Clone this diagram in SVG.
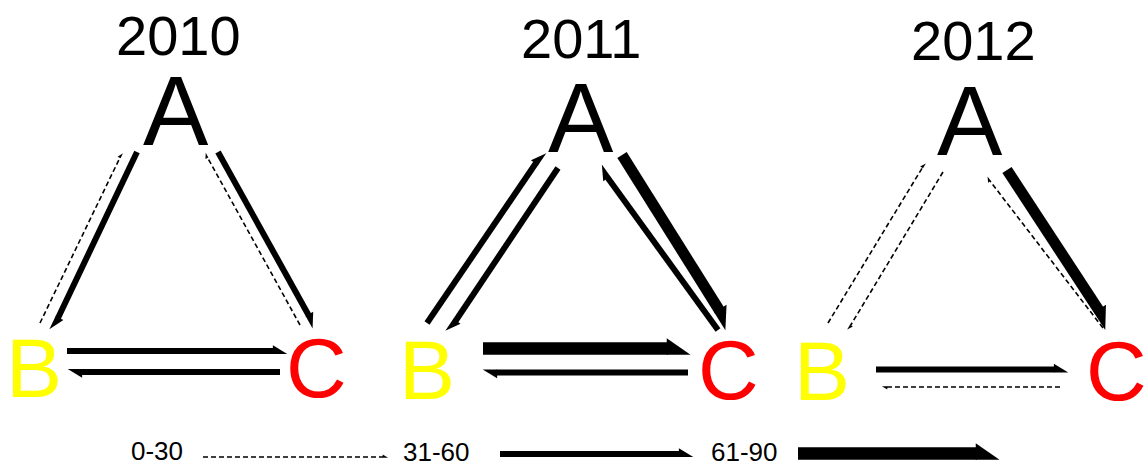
<svg xmlns="http://www.w3.org/2000/svg" width="1148" height="471" viewBox="0 0 1148 471">
<style>
text{font-family:"Liberation Sans",Arial,sans-serif;}
.title{font-size:56px;fill:#000;}
.na{font-size:98px;fill:#000;}
.nb{font-size:84px;fill:#FFFF00;}
.nc{font-size:84px;fill:#FF0000;}
.lg{font-size:26px;fill:#000;}
.m{stroke:#000;stroke-width:6;fill:none;marker-end:url(#hm);}
.t{stroke:#000;stroke-width:11;fill:none;marker-end:url(#ht);}
.th{stroke:#000;stroke-width:12.5;fill:none;marker-end:url(#ht);}
.d{stroke:#000;stroke-width:1.6;fill:none;stroke-dasharray:5 3;marker-end:url(#hd);}
</style>
<defs>
<marker id="hm" markerUnits="strokeWidth" markerWidth="3" markerHeight="3" refX="0" refY="0" orient="auto" overflow="visible"><path d="M-0.1,-0.95 L2.3,0.5 L-0.1,0.5 Z" fill="#000"/></marker>
<marker id="ht" markerUnits="strokeWidth" markerWidth="3" markerHeight="3" refX="0" refY="0" orient="auto" overflow="visible"><path d="M-0.1,-0.82 L1.8,0.5 L-0.1,0.5 Z" fill="#000"/></marker>
<marker id="hd" markerUnits="strokeWidth" markerWidth="4" markerHeight="4" refX="0" refY="0" orient="auto" overflow="visible"><path d="M-0.2,-1.6 L3.2,0.5 L-0.2,0.5 Z" fill="#000"/></marker>
</defs>
<rect width="1148" height="471" fill="#fff"/>
<g id="titles">
<text class="title" x="116" y="55">2010</text>
<text class="title" x="521" y="58">2011</text>
<text class="title" x="911" y="60">2012</text>
</g>
<g id="panel2010">
<g id="A2010"><text class="na" x="143" y="145">A</text></g>
<g id="B2010"><text class="nb" x="6" y="397">B</text></g>
<g id="C2010"><text class="nc" x="286" y="397">C</text></g>
</g>
<g id="panel2011">
<g id="A2011"><text class="na" x="548" y="152">A</text></g>
<g id="B2011"><text class="nb" x="399" y="399">B</text></g>
<g id="C2011"><text class="nc" x="698" y="399">C</text></g>
</g>
<g id="panel2012">
<g id="A2012"><text class="na" x="937" y="155">A</text></g>
<g id="B2012"><text class="nb" x="794" y="400">B</text></g>
<g id="C2012"><text class="nc" x="1086" y="400">C</text></g>
</g>
<g id="connectors">
<line class="m" x1="137" y1="152" x2="58" y2="318"/>
<line class="d" x1="40" y1="323" x2="120" y2="157.5"/>
<line class="m" x1="218" y1="152" x2="308.5" y2="315"/>
<line class="d" x1="300" y1="325" x2="207.5" y2="157.5"/>
<line class="m" x1="67" y1="351" x2="273.5" y2="351"/>
<line class="m" x1="280" y1="372" x2="81.5" y2="372"/>

<line class="m" x1="427" y1="323" x2="536" y2="163"/>
<line class="m" x1="558" y1="168" x2="455.5" y2="321"/>
<line class="t" x1="622" y1="155" x2="719.5" y2="310.5"/>
<line class="m" x1="718" y1="330" x2="607.5" y2="177.5"/>
<line class="th" x1="483" y1="348.5" x2="668" y2="348.5"/>
<line class="m" x1="688" y1="372.5" x2="496.5" y2="372.5"/>

<line class="d" x1="828" y1="323" x2="922.5" y2="167.5"/>
<line class="d" x1="943" y1="172" x2="850.5" y2="325.5"/>
<line class="t" x1="1007" y1="170" x2="1099" y2="310.5"/>
<line class="d" x1="1103" y1="328" x2="990" y2="181"/>
<line class="m" x1="876" y1="369.5" x2="1054.5" y2="369.5"/>
<line class="d" x1="1060" y1="387" x2="887" y2="387"/>
</g>
<g id="legend">
<text class="lg" x="131" y="460">0-30</text>
<line class="d" x1="203" y1="457" x2="383" y2="457"/>
<text class="lg" x="403" y="461">31-60</text>
<line class="m" x1="500" y1="454" x2="679.5" y2="454"/>
<text class="lg" x="711" y="461">61-90</text>
<line class="th" x1="798" y1="453.5" x2="977" y2="453.5"/>
</g>
</svg>
